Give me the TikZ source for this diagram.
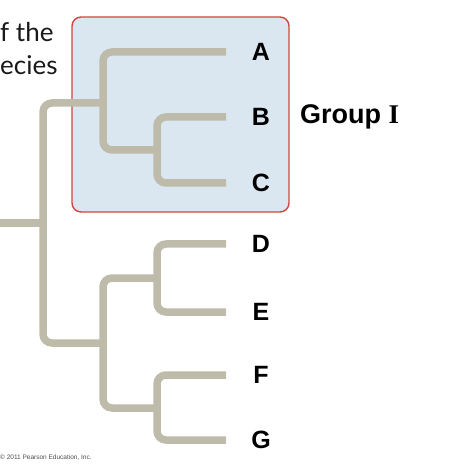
\documentclass[tikz,border=0pt]{standalone}
\usepackage{fontspec}
\setsansfont{Liberation Sans}
\newfontfamily\captfont{Lato}
\newfontfamily\romfont{Liberation Serif}
\usetikzlibrary{calc}

\definecolor{branchgray}{RGB}{190,187,170}
\definecolor{boxred}{RGB}{214,66,62}
\definecolor{boxblue}{RGB}{218,231,241}

\tikzset{
	branch/.style={draw=branchgray, line width=7.5pt, rounded corners=9pt},
	taxon/.style={font=\sffamily\bfseries\fontsize{25}{25}\selectfont, inner sep=0pt},
	caption/.style={anchor=base west, inner sep=0pt, text=black!90, font=\captfont\fontsize{26}{26}\selectfont},
	groupbox/.style={draw=boxred, line width=1.4pt, rounded corners=9pt, fill=boxblue}
}

\begin{document}
\begin{tikzpicture}[x=1pt, y=-1pt]
	\useasboundingbox (0,0) rectangle (474,465);
	
	% group box
	\draw[groupbox] (72,17) rectangle (289,212);
	
	% text at the left edge
	\node[caption] (capone) at (0,42) {f the};
	\node[caption] (captwo) at (0,75) {ecies};
	
	% inner nodes
	\coordinate (stem) at (0,223);
	\coordinate (root) at (43,223);
	\coordinate (nABC) at (103,103);
	\coordinate (nBC) at (157,150);
	\coordinate (nDEFG) at (103,343);
	\coordinate (nDE) at (157,278);
	\coordinate (nFG) at (157,408);
	
	% leaf tips and labels
	\foreach \leaf/\y in {A/52, B/117, C/183, D/244, E/312, F/375, G/440}{
		\coordinate (t\leaf) at (226,\y);
		\node[taxon] (l\leaf) at (261,\y) {\leaf};
	}
	
	% tree
	\draw[branch] (stem) -- (root);
	\draw[branch] (root) |- (nABC);
	\draw[branch] (root) |- (nDEFG);
	\draw[branch] (nABC) |- (tA);
	\draw[branch] (nABC) |- (nBC);
	\draw[branch] (nBC) |- (tB);
	\draw[branch] (nBC) |- (tC);
	\draw[branch] (nDEFG) |- (nDE);
	\draw[branch] (nDEFG) |- (nFG);
	\draw[branch] (nDE) |- (tD);
	\draw[branch] (nDE) |- (tE);
	\draw[branch] (nFG) |- (tF);
	\draw[branch] (nFG) |- (tG);
	
	\node[anchor=west, inner sep=0pt, font=\sffamily\bfseries\fontsize{27}{27}\selectfont] (group) at (300,117) {Group {\romfont I}};
	
	\node[anchor=west, inner sep=0pt, text=black!70, font=\sffamily\fontsize{6.5}{6.5}\selectfont] (copy) at (0,458) {\textcopyright\ 2011 Pearson Education, Inc.};
\end{tikzpicture}
\end{document}
